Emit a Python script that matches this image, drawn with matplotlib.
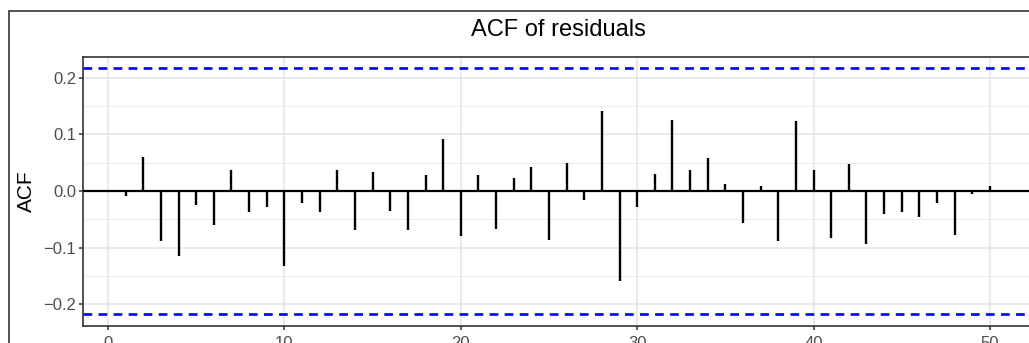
import numpy as np
import matplotlib
matplotlib.use('Agg')
import matplotlib.pyplot as plt
from matplotlib.patches import Rectangle
from matplotlib.ticker import FixedLocator

plt.rcParams['font.family'] = ['Liberation Sans', 'DejaVu Sans']

''' --------- Data read off the chart --------- '''
lags = np.arange(1, 51)
acf = [-0.009, 0.061, -0.088, -0.114, -0.024, -0.060, 0.037, -0.036, -0.028, -0.133,
       -0.021, -0.036, 0.037, -0.069, 0.033, -0.035, -0.069, 0.028, 0.092, -0.079,
       0.028, -0.067, 0.023, 0.042, -0.086, 0.050, -0.016, 0.142, -0.159, -0.028,
       0.031, 0.126, 0.037, 0.059, 0.012, -0.057, 0.009, -0.088, 0.123, 0.037,
       -0.083, 0.048, -0.093, -0.041, -0.036, -0.046, -0.021, -0.078, -0.005, 0.009]
conf = 0.2166               # 95% bound
xticks = [0, 10, 20, 30, 40, 50]
yticks = [-0.2, -0.1, 0.0, 0.1, 0.2]

''' --------- Figure --------- '''
W, H = 1029, 343
fig = plt.figure(figsize=(W/100, H/100), dpi=100)

# outer plot border (cropped on right and bottom)
fig.patches.append(Rectangle((8.5/W, -0.2), 2, 1.2 - 10.5/H, transform=fig.transFigure,
                             fill=False, edgecolor='#333333', lw=1.2))

ax = fig.add_axes([83/W, 17/H, (1033-83)/W, (326-57)/H])
ax.set_xlim(-1.417, 52.44)
ax.set_ylim(-0.238, 0.2366)

ax.xaxis.set_major_locator(FixedLocator(xticks))
ax.yaxis.set_major_locator(FixedLocator(yticks))
ax.yaxis.set_minor_locator(FixedLocator([-0.15, -0.05, 0.05, 0.15]))
ax.grid(True, which='major', color='#E6E6E6', lw=1.2)
ax.grid(True, which='minor', axis='y', color='#EBEBEB', lw=0.7)
ax.set_axisbelow(True)

ax.axhline(0, color='black', lw=1.6, zorder=3)
ax.vlines(lags, 0, acf, colors='black', lw=1.7, zorder=3)
for c in (conf, -conf):
    ax.axhline(c, color='#0000FF', lw=1.9, linestyle=(0, (3.3, 2.4)), zorder=4)

ax.set_yticklabels([f'{v:.1f}'.replace('-', '\u2212') for v in yticks])
ax.tick_params(axis='both', which='major', length=3, width=1.1, color='#333333',
               labelsize=12, labelcolor='#4D4D4D', pad=2)
ax.tick_params(axis='x', which='major', pad=4)
ax.tick_params(axis='both', which='minor', length=0)
for s in ax.spines.values():
    s.set_color('#333333')
    s.set_linewidth(1.2)

fig.text(26/W, 1 - 191/H, 'ACF', rotation=90, ha='center', va='center', fontsize=15)
fig.text(558/W, 1 - 30/H, 'ACF of residuals', ha='center', va='center', fontsize=17)

fig.savefig('out.png', dpi=100)
